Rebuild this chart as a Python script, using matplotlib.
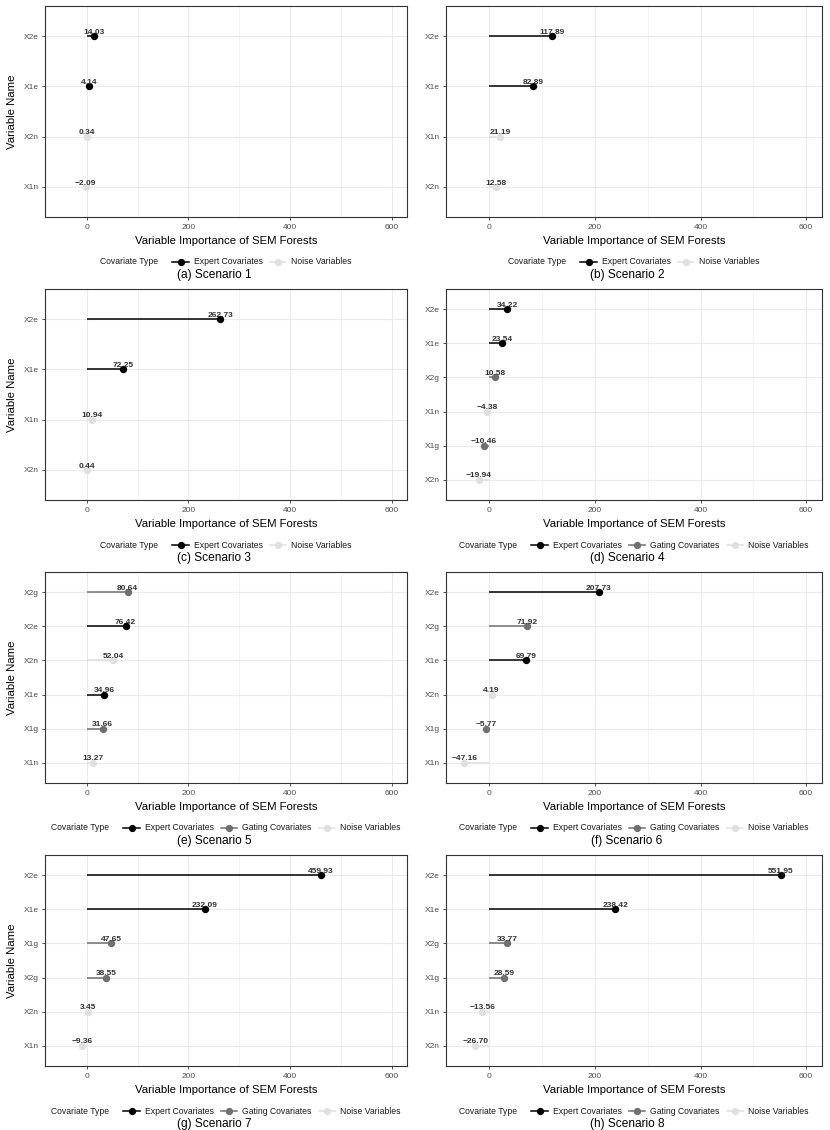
import matplotlib
matplotlib.use("Agg")
import matplotlib.pyplot as plt
from matplotlib.lines import Line2D
from matplotlib.offsetbox import HPacker, TextArea, DrawingArea, AnchoredOffsetbox

plt.rcParams['font.family'] = ['Liberation Sans', 'DejaVu Sans']

# variables listed top -> bottom as in the chart
s1_vars = ["X2e", "X1e", "X2n", "X1n"]
s1_vals = [14.03, 4.14, 0.34, -2.09]
s1_types = ["E", "E", "N", "N"]

s2_vars = ["X2e", "X1e", "X1n", "X2n"]
s2_vals = [117.89, 82.89, 21.19, 12.58]
s2_types = ["E", "E", "N", "N"]

s3_vars = ["X2e", "X1e", "X1n", "X2n"]
s3_vals = [262.73, 72.25, 10.94, 0.44]
s3_types = ["E", "E", "N", "N"]

s4_vars = ["X2e", "X1e", "X2g", "X1n", "X1g", "X2n"]
s4_vals = [34.22, 23.54, 10.58, -4.38, -10.46, -19.94]
s4_types = ["E", "E", "G", "N", "G", "N"]

s5_vars = ["X2g", "X2e", "X2n", "X1e", "X1g", "X1n"]
s5_vals = [80.64, 76.42, 52.04, 34.96, 31.66, 13.27]
s5_types = ["G", "E", "N", "E", "G", "N"]

s6_vars = ["X2e", "X2g", "X1e", "X2n", "X1g", "X1n"]
s6_vals = [207.73, 71.92, 69.79, 4.19, -5.77, -47.16]
s6_types = ["E", "G", "E", "N", "G", "N"]

s7_vars = ["X2e", "X1e", "X1g", "X2g", "X2n", "X1n"]
s7_vals = [459.93, 232.09, 47.65, 38.55, 3.45, -9.36]
s7_types = ["E", "E", "G", "G", "N", "N"]

s8_vars = ["X2e", "X1e", "X2g", "X1g", "X1n", "X2n"]
s8_vals = [551.95, 238.42, 33.77, 28.59, -13.56, -26.70]
s8_types = ["E", "E", "G", "G", "N", "N"]

captions = ["(a) Scenario 1", "(b) Scenario 2", "(c) Scenario 3", "(d) Scenario 4",
            "(e) Scenario 5", "(f) Scenario 6", "(g) Scenario 7", "(h) Scenario 8"]

type_names = {"E": "Expert Covariates", "G": "Gating Covariates", "N": "Noise Variables"}
type_colors = {"E": "#000000", "G": "#707070", "N": "#E0E0E0"}

scenarios = [
    (s1_vars, s1_vals, s1_types), (s2_vars, s2_vals, s2_types),
    (s3_vars, s3_vals, s3_types), (s4_vars, s4_vals, s4_types),
    (s5_vars, s5_vals, s5_types), (s6_vars, s6_vals, s6_types),
    (s7_vars, s7_vals, s7_types), (s8_vars, s8_vals, s8_types),
]

W, H = 830, 1130
fig = plt.figure(figsize=(W / 100, H / 100), dpi=100)


def fx(px):
    return px / W


def fy(py):
    return 1 - py / H


def make_legend(types, cx, cy):
    items = []
    for t in ["E", "G", "N"]:
        if t not in types:
            continue
        da = DrawingArea(12, 8, 0, 0)
        da.add_artist(Line2D([0, 12], [4, 4], color=type_colors[t], lw=1.1))
        da.add_artist(Line2D([6], [4], marker="o", ms=4.2, color=type_colors[t], lw=0))
        lab = TextArea(type_names[t], textprops=dict(fontsize=6.2, color="#1A1A1A"))
        items.append(HPacker(children=[da, lab], sep=3.5, pad=0, align="center"))
    title = TextArea("Covariate Type", textprops=dict(fontsize=6.2, color="#1A1A1A"))
    row = HPacker(children=[title, HPacker(children=items, sep=5, pad=0, align="center")],
                  sep=10, pad=0, align="center")
    box = AnchoredOffsetbox(loc="center", child=row, pad=0, borderpad=0, frameon=False,
                            bbox_to_anchor=(cx, cy), bbox_transform=fig.transFigure)
    fig.add_artist(box)


for k, (names, vals, types) in enumerate(scenarios):
    r, c = divmod(k, 2)
    left, right = (45, 407) if c == 0 else (446, 822)
    top = 6 + 283 * r
    bottom = top + 211
    ax = fig.add_axes([fx(left), fy(bottom), fx(right - left), (bottom - top) / H])
    n = len(names)
    ys = [n - i for i in range(n)]

    for y, v, t in zip(ys, vals, types):
        col = type_colors[t]
        ax.plot([0, v], [y, y], color=col, lw=1.1, solid_capstyle="butt", zorder=3)
        ax.plot([v], [y], marker="o", ms=4.3, color=col, lw=0, zorder=4)
        ax.annotate(f"{v:.2f}".replace("-", "\u2212"), (v, y), xytext=(0, 1.6),
                    textcoords="offset points", ha="center", va="baseline",
                    fontsize=6.0, fontweight="bold", color="#333333", zorder=5)

    ax.set_xticks([0, 200, 400, 600])
    ax.set_xticks([100, 300, 500], minor=True)
    ax.set_yticks(ys)
    ax.set_yticklabels(names)
    ax.set_xlim(-82, 630)
    ax.set_ylim(0.4, n + 0.6)
    ax.grid(which="major", color="#EBEBEB", lw=0.8, zorder=0)
    ax.grid(which="minor", axis="x", color="#EBEBEB", lw=0.4, zorder=0)
    ax.set_axisbelow(True)
    ax.tick_params(which="major", length=2.2, width=0.6, color="#333333",
                   labelsize=6.0, labelcolor="#4D4D4D", pad=2.5)
    ax.tick_params(which="minor", length=0)
    for s in ax.spines.values():
        s.set_color("#333333")
        s.set_linewidth(0.8)

    cx = (left + right) / 2
    fig.text(fx(cx), fy(bottom + 24), "Variable Importance of SEM Forests",
             ha="center", va="center", fontsize=8.2)
    if c == 0:
        fig.text(fx(12), fy((top + bottom) / 2), "Variable Name", rotation=90,
                 ha="center", va="center", fontsize=8.2)
    make_legend(types, fx(cx), fy(bottom + 45))
    capx = 214 if c == 0 else 627
    fig.text(fx(capx), fy(bottom + 58), captions[k], ha="center", va="center", fontsize=8.6)

fig.savefig("out.png", dpi=100)
